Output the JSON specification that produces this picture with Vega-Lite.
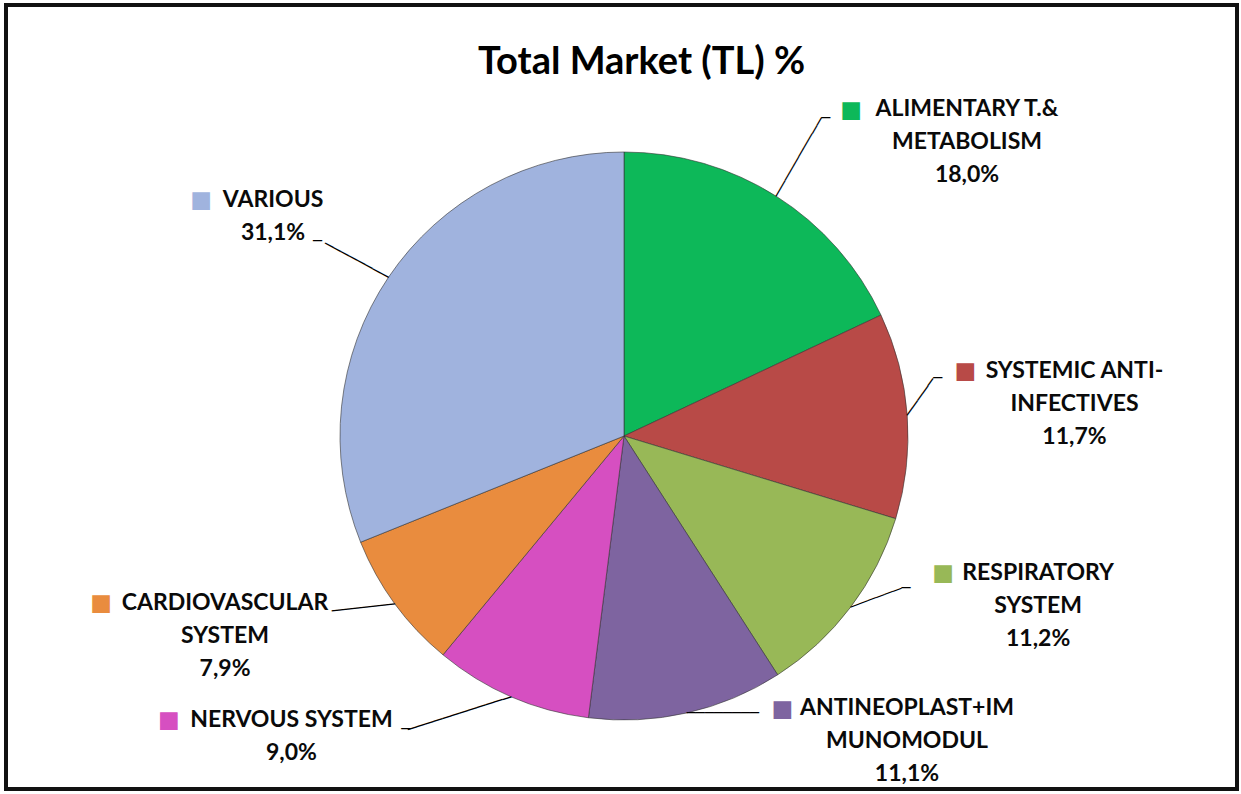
{
  "$schema": "https://vega.github.io/schema/vega-lite/v6.json",
  "width": 1241,
  "height": 794,
  "autosize": {"type": "fit", "contains": "padding"},
  "padding": {"left": 4, "right": 2, "top": 3, "bottom": 3},
  "background": "white",
  "config": {"view": {"stroke": null}, "font": "Lato"},
  "title": {"text": "Total Market (TL) %", "font": "Lato", "fontSize": 38, "fontWeight": "bold", "color": "#000000", "anchor": "middle", "offset": -79, "dx": 20},
  "data": {
    "values": [
      {"rank": 1, "category": "ALIMENTARY T.& METABOLISM", "value": 18.0, "label": ["ALIMENTARY T.&", "METABOLISM", "18,0%"]},
      {"rank": 2, "category": "SYSTEMIC ANTI-INFECTIVES", "value": 11.7, "label": ["SYSTEMIC ANTI-", "INFECTIVES", "11,7%"]},
      {"rank": 3, "category": "RESPIRATORY SYSTEM", "value": 11.2, "label": ["RESPIRATORY", "SYSTEM", "11,2%"]},
      {"rank": 4, "category": "ANTINEOPLAST+IMMUNOMODUL", "value": 11.1, "label": ["ANTINEOPLAST+IM", "MUNOMODUL", "11,1%"]},
      {"rank": 5, "category": "NERVOUS SYSTEM", "value": 9.0, "label": ["NERVOUS SYSTEM", "9,0%"]},
      {"rank": 6, "category": "CARDIOVASCULAR SYSTEM", "value": 7.9, "label": ["CARDIOVASCULAR", "SYSTEM", "7,9%"]},
      {"rank": 7, "category": "VARIOUS", "value": 31.1, "label": ["VARIOUS", "31,1%"]}
    ]
  },
  "layer": [
    {
      "data": {"values": [{"frame": 1}]},
      "mark": {"type": "rect", "filled": false, "color": "#111111", "strokeWidth": 4},
      "encoding": {}
    },
    {
      "mark": {"type": "arc", "radius": 284, "xOffset": 2.5, "yOffset": 39, "stroke": "#333333", "strokeWidth": 1, "strokeOpacity": 0.6},
      "encoding": {
        "theta": {"field": "value", "type": "quantitative", "stack": true},
        "order": {"field": "rank", "type": "quantitative"},
        "color": {
          "field": "category", "type": "nominal", "legend": null,
          "scale": {
            "domain": ["ALIMENTARY T.& METABOLISM", "SYSTEMIC ANTI-INFECTIVES", "RESPIRATORY SYSTEM", "ANTINEOPLAST+IMMUNOMODUL", "NERVOUS SYSTEM", "CARDIOVASCULAR SYSTEM", "VARIOUS"],
            "range": ["#0DB859", "#B84A47", "#98B857", "#7E64A0", "#D64FC1", "#E98C3E", "#A0B3DE"]
          }
        }
      }
    },
    {
      "mark": {
        "type": "text", "radius": 284, "xOffset": 2.5, "yOffset": 39,
        "font": "DejaVu Sans Mono", "fontSize": 15, "align": "left", "baseline": "middle", "fill": "#000000",
        "angle": {"expr": "[-60, -54.9, -20.4, 0, 162.4, 173.7, 208.4][datum.rank - 1]"},
        "text": {"expr": "['──────────', '─────', '──────', '────────', '────────────', '───────', '────────'][datum.rank - 1]"}
      },
      "encoding": {
        "theta": {"field": "value", "type": "quantitative", "stack": true},
        "order": {"field": "rank", "type": "quantitative"}
      }
    },
    {
      "mark": {
        "type": "text", "radius": 284, "xOffset": 2.5, "yOffset": 39,
        "font": "DejaVu Sans Mono", "fontSize": 15, "align": "center", "baseline": "middle", "fill": "#000000",
        "text": {"expr": "['─', '─', '─', '', '─', '', '─'][datum.rank - 1]"},
        "dx": {"expr": "[49.5, 30.5, 55.5, 0, -105.5, 0, -71.1][datum.rank - 1]"},
        "dy": {"expr": "[-78, -37, -19, 0, 32.3, 0, -36][datum.rank - 1]"}
      },
      "encoding": {
        "theta": {"field": "value", "type": "quantitative", "stack": true},
        "order": {"field": "rank", "type": "quantitative"}
      }
    },
    {
      "mark": {
        "type": "text", "radius": 400, "xOffset": 2.5, "yOffset": 39,
        "font": "Lato", "fontSize": 23, "fontWeight": "bold", "lineHeight": 33,
        "align": "center", "baseline": "middle", "fill": "#0a0a0a",
        "dx": {"expr": "[128.7, 51.5, 95, 194.5, -173.7, -76.1, -19.4][datum.rank - 1]"},
        "dy": {"expr": "[11.2, -36.1, -104.3, -118.1, -83.1, -69, -12.7][datum.rank - 1]"}
      },
      "encoding": {
        "theta": {"field": "value", "type": "quantitative", "stack": true},
        "order": {"field": "rank", "type": "quantitative"},
        "text": {"field": "label"}
      }
    },
    {
      "mark": {
        "type": "text", "radius": 400, "xOffset": 2.5, "yOffset": 39,
        "font": "DejaVu Sans", "fontSize": 23, "text": "■",
        "align": "center", "baseline": "middle",
        "dx": {"expr": "[12.7, -57.5, 0, 70, -296.2, -200.1, -91.4][datum.rank - 1]"},
        "dy": {"expr": "[11.7, -36.1, -104.3, -117.1, -83.1, -69.5, -12.2][datum.rank - 1]"}
      },
      "encoding": {
        "theta": {"field": "value", "type": "quantitative", "stack": true},
        "order": {"field": "rank", "type": "quantitative"},
        "color": {"field": "category", "type": "nominal", "legend": null}
      }
    }
  ]
}
